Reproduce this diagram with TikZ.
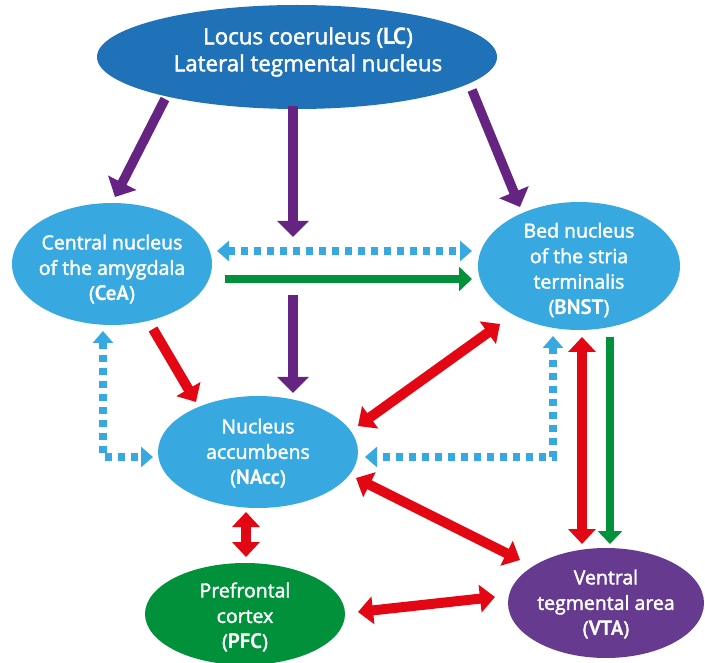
\documentclass[tikz,border=0pt]{standalone}
\usepackage{fontspec}
\setmainfont{Open Sans}[FakeBold=2]
\newfontfamily\acrofont{PT Sans}
\usetikzlibrary{shapes.geometric,arrows.meta}
\definecolor{lcblue}{HTML}{1F71B8}
\definecolor{nblue}{HTML}{38A9E0}
\definecolor{ngreen}{HTML}{00913A}
\definecolor{apurple}{HTML}{662482}
\definecolor{vpurple}{HTML}{663B8F}
\definecolor{ared}{HTML}{E30613}
\newcommand{\acr}[1]{{\acrofont\bfseries\fontsize{21}{25.5}\selectfont #1}}
\newcommand{\acrbig}[1]{{\acrofont\bfseries\fontsize{23.5}{27}\selectfont #1}}
\begin{document}
\begin{tikzpicture}[x=1pt,y=-1pt,
  region/.style={ellipse, inner sep=0pt, draw=none},
  regtext/.style={text=white, align=center, inner sep=0pt, font=\fontsize{19.5}{25.5}\selectfont},
  purplearr/.style={draw=apurple, line width=9.5pt, -{Triangle[width=31pt,length=16pt]}},
  greenarr/.style={draw=ngreen, line width=8.5pt, -{Triangle[width=24pt,length=13pt]}},
  redarr/.style={draw=ared, line width=10pt, -{Triangle[width=27pt,length=15pt]}},
  redboth/.style={draw=ared, line width=10pt, {Triangle[width=27pt,length=15pt]}-{Triangle[width=27pt,length=15pt]}},
  bluedot/.style={draw=nblue, line width=7.5pt, dash pattern=on 7pt off 6pt, {Triangle[width=20pt,length=12pt]}-{Triangle[width=20pt,length=12pt]}}
]
\useasboundingbox (0,0) rectangle (705,663);

% regions
\node[region, fill=lcblue, minimum width=400pt, minimum height=104pt] (lc) at (297,57) {};
\node[regtext, font=\fontsize{22.3}{27}\selectfont] (lct) at (308,52) {Locus coeruleus (\acrbig{LC})\\Lateral tegmental nucleus};
\node[region, fill=nblue, minimum width=200pt, minimum height=122pt] (cea) at (112,264) {};
\node[regtext] (ceat) at (112,269) {Central nucleus\\of the amygdala\\(\acr{CeA})};
\node[region, fill=nblue, minimum width=202pt, minimum height=128pt] (bnst) at (579,266) {};
\node[regtext] (bnstt) at (579,270) {Bed nucleus\\of the stria\\terminalis\\(\acr{BNST})};
\node[region, fill=nblue, minimum width=200pt, minimum height=112pt] (nacc) at (258,452) {};
\node[regtext] (nacct) at (258,453) {Nucleus\\accumbens\\(\acr{NAcc})};
\node[region, fill=ngreen, minimum width=200pt, minimum height=102pt] (pfc) at (245,614) {};
\node[regtext] (pfct) at (245,617) {Prefrontal\\cortex\\(\acr{PFC})};
\node[region, fill=vpurple, minimum width=196pt, minimum height=110pt] (vta) at (606,603) {};
\node[regtext] (vtat) at (606,604) {Ventral\\tegmental area\\(\acr{VTA})};

% connector end points
\coordinate (p1a) at (165,99);  \coordinate (p1b) at (115,197);
\coordinate (p2a) at (293,106); \coordinate (p2b) at (293,237);
\coordinate (p3a) at (472,90);  \coordinate (p3b) at (520,207);
\coordinate (p4a) at (293,295); \coordinate (p4b) at (293,393);
\coordinate (gha) at (225,279); \coordinate (ghb) at (472,279);
\coordinate (bha) at (217,251); \coordinate (bhb) at (472,251);
\coordinate (rca) at (153,329); \coordinate (rcb) at (196,402);
\coordinate (rnb1) at (358,426); \coordinate (rnb2) at (500,324);
\coordinate (bl1) at (103,331); \coordinate (bl2) at (153,457);
\coordinate (br1) at (553,336); \coordinate (br2) at (365,457);
\coordinate (rv1) at (582,337); \coordinate (rv2) at (582,544);
\coordinate (gv1) at (610,337); \coordinate (gv2) at (610,544);
\coordinate (rnv1) at (356,478); \coordinate (rnv2) at (520,560);
\coordinate (rnp1) at (246,512); \coordinate (rnp2) at (246,557);
\coordinate (rpv1) at (358,612); \coordinate (rpv2) at (495,597);

% purple projections from LC
\draw[purplearr] (p1a) -- (p1b);
\draw[purplearr] (p2a) -- (p2b);
\draw[purplearr] (p3a) -- (p3b);
\draw[purplearr] (p4a) -- (p4b);

% CeA <-> BNST
\draw[bluedot] (bha) -- (bhb);
\draw[greenarr] (gha) -- (ghb);

% CeA -> NAcc
\draw[redarr] (rca) -- (rcb);
\draw[bluedot] (bl1) |- (bl2);

% BNST <-> NAcc
\draw[redboth] (rnb1) -- (rnb2);
\draw[bluedot] (br1) |- (br2);

% BNST <-> VTA
\draw[redboth] (rv1) -- (rv2);
\draw[greenarr] (gv1) -- (gv2);

% NAcc, PFC, VTA
\draw[redboth] (rnv1) -- (rnv2);
\draw[redboth] (rnp1) -- (rnp2);
\draw[redboth] (rpv1) -- (rpv2);
\end{tikzpicture}
\end{document}
